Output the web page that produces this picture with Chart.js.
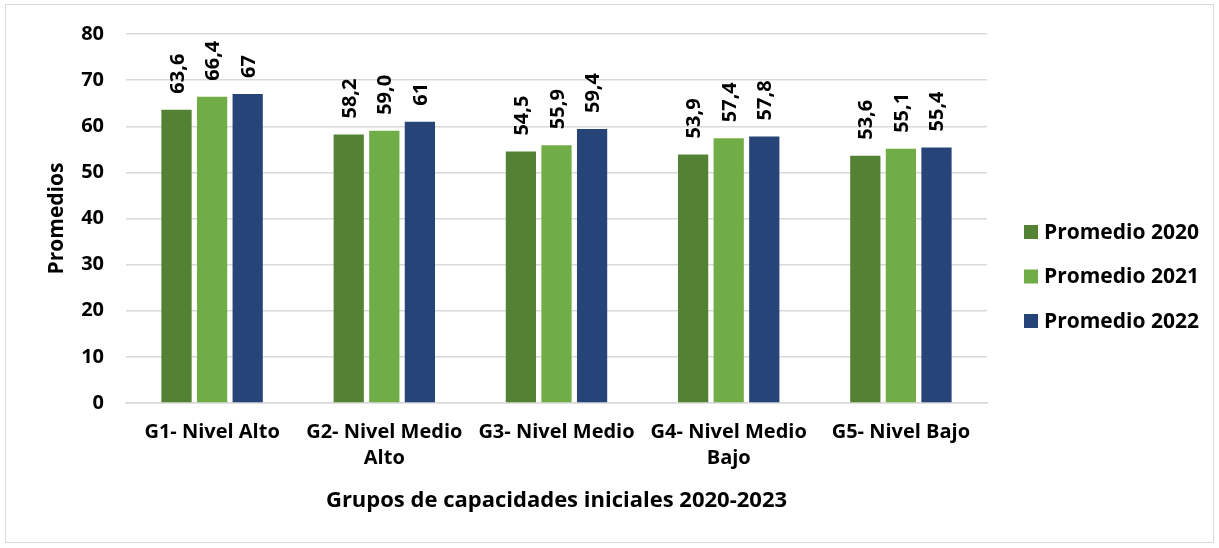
<!DOCTYPE html>
<html>
<head>
<meta charset="utf-8">
<script src="https://cdn.jsdelivr.net/npm/chart.js@4/dist/chart.umd.min.js"></script>
<style>
  html,body{margin:0;padding:0;background:#fff;}
  #wrap{position:relative;width:1219px;height:548px;}
</style>
</head>
<body>
<div id="wrap"><canvas id="chart" width="1219" height="548"></canvas></div>
<script>
// categories + series
const groups = [
  'G1- Nivel Alto',
  ['G2- Nivel Medio', 'Alto'],
  'G3- Nivel Medio',
  ['G4- Nivel Medio', 'Bajo'],
  'G5- Nivel Bajo'
];
const seriesNames = ['Promedio 2020', 'Promedio 2021', 'Promedio 2022'];
const prom2020 = [63.6, 58.2, 54.5, 53.9, 53.6];
const prom2021 = [66.4, 59.0, 55.9, 57.4, 55.1];
const prom2022 = [67, 61, 59.4, 57.8, 55.4];
// labels as printed on top of bars
const lab2020 = ['63,6', '58,2', '54,5', '53,9', '53,6'];
const lab2021 = ['66,4', '59,0', '55,9', '57,4', '55,1'];
const lab2022 = ['67', '61', '59,4', '57,8', '55,4'];
const yTicks = [0, 10, 20, 30, 40, 50, 60, 70, 80];

const FONT = '"Open Sans", "Noto Sans", sans-serif';
const colors = ['#548235', '#70AD47', '#264478'];

// white bg + thin outer frame
const frame = {
  id: 'frame',
  beforeDraw(chart){
    const c = chart.ctx;
    c.save();
    c.fillStyle = '#fff';
    c.fillRect(0, 0, chart.width, chart.height);
    c.strokeStyle = '#d9d9d9';
    c.lineWidth = 1;
    c.strokeRect(5.5, 4.5, chart.width - 11, chart.height - 10);
    c.restore();
  }
};

// rotated value labels above each bar
const barLabels = {
  id: 'barLabels',
  afterDatasetsDraw(chart){
    const c = chart.ctx;
    c.save();
    c.font = 'bold 20px ' + FONT;
    c.fillStyle = '#000';
    c.textAlign = 'left';
    c.textBaseline = 'alphabetic';
    chart.data.datasets.forEach((ds, i)=>{
      chart.getDatasetMeta(i).data.forEach((bar, j)=>{
        c.save();
        c.translate(bar.x + 7, bar.y - 16);
        c.rotate(-Math.PI / 2);
        c.fillText(ds.valueLabels[j], 0, 0);
        c.restore();
      });
    });
    c.restore();
  }
};

// legend on the right, drawn next to plot area
const sideLegend = {
  id: 'sideLegend',
  afterDraw(chart){
    const c = chart.ctx;
    const x0 = chart.chartArea.right + 37;
    const y0 = 232;
    c.save();
    c.font = 'bold 21px ' + FONT;
    c.textBaseline = 'middle';
    c.textAlign = 'left';
    chart.data.datasets.forEach((ds, i)=>{
      const y = y0 + i * 44.5;
      c.fillStyle = ds.backgroundColor;
      c.fillRect(x0, y - 7, 14, 14);
      c.fillStyle = '#000';
      c.fillText(ds.label, x0 + 20, y + 1);
    });
    c.restore();
  }
};

const mkSet = (i, data, labs)=>({
  label: seriesNames[i],
  data: data,
  valueLabels: labs,
  backgroundColor: colors[i],
  borderWidth: 0,
  categoryPercentage: 0.62,
  barPercentage: 0.85
});

new Chart(document.getElementById('chart'), {
  type: 'bar',
  data: {
    labels: groups,
    datasets: [mkSet(0, prom2020, lab2020), mkSet(1, prom2021, lab2021), mkSet(2, prom2022, lab2022)]
  },
  options: {
    responsive: false,
    animation: false,
    layout: { padding: { left: 40, right: 232, top: 33, bottom: 34 } },
    plugins: { legend: { display: false }, tooltip: { enabled: false } },
    scales: {
      x: {
        grid: { display: false },
        border: { color: '#d9d9d9', width: 1.5 },
        ticks: { color: '#000', font: { family: FONT, size: 20, weight: 'bold', lineHeight: 1.3 }, padding: 8, maxRotation: 0, autoSkip: false },
        title: { display: true, text: 'Grupos de capacidades iniciales 2020-2023', color: '#000',
                 font: { family: FONT, size: 22, weight: 'bold' }, padding: { top: 0, bottom: 0 } },
        afterFit(s){ s.height = 111; }
      },
      y: {
        min: 0, max: 80,
        afterBuildTicks(s){ s.ticks = yTicks.map(v=>({ value: v })); },
        grid: { color: '#d9d9d9', lineWidth: 1.5, drawTicks: false },
        border: { display: false },
        ticks: { color: '#000', font: { family: FONT, size: 20, weight: 'bold' }, padding: 22 },
        title: { display: true, text: 'Promedios', color: '#000',
                 font: { family: FONT, size: 21, weight: 'bold' }, padding: { top: 4, bottom: 0 } },
        afterFit(s){ s.width = 86; }
      }
    }
  },
  plugins: [frame, barLabels, sideLegend]
});
</script>
</body>
</html>
